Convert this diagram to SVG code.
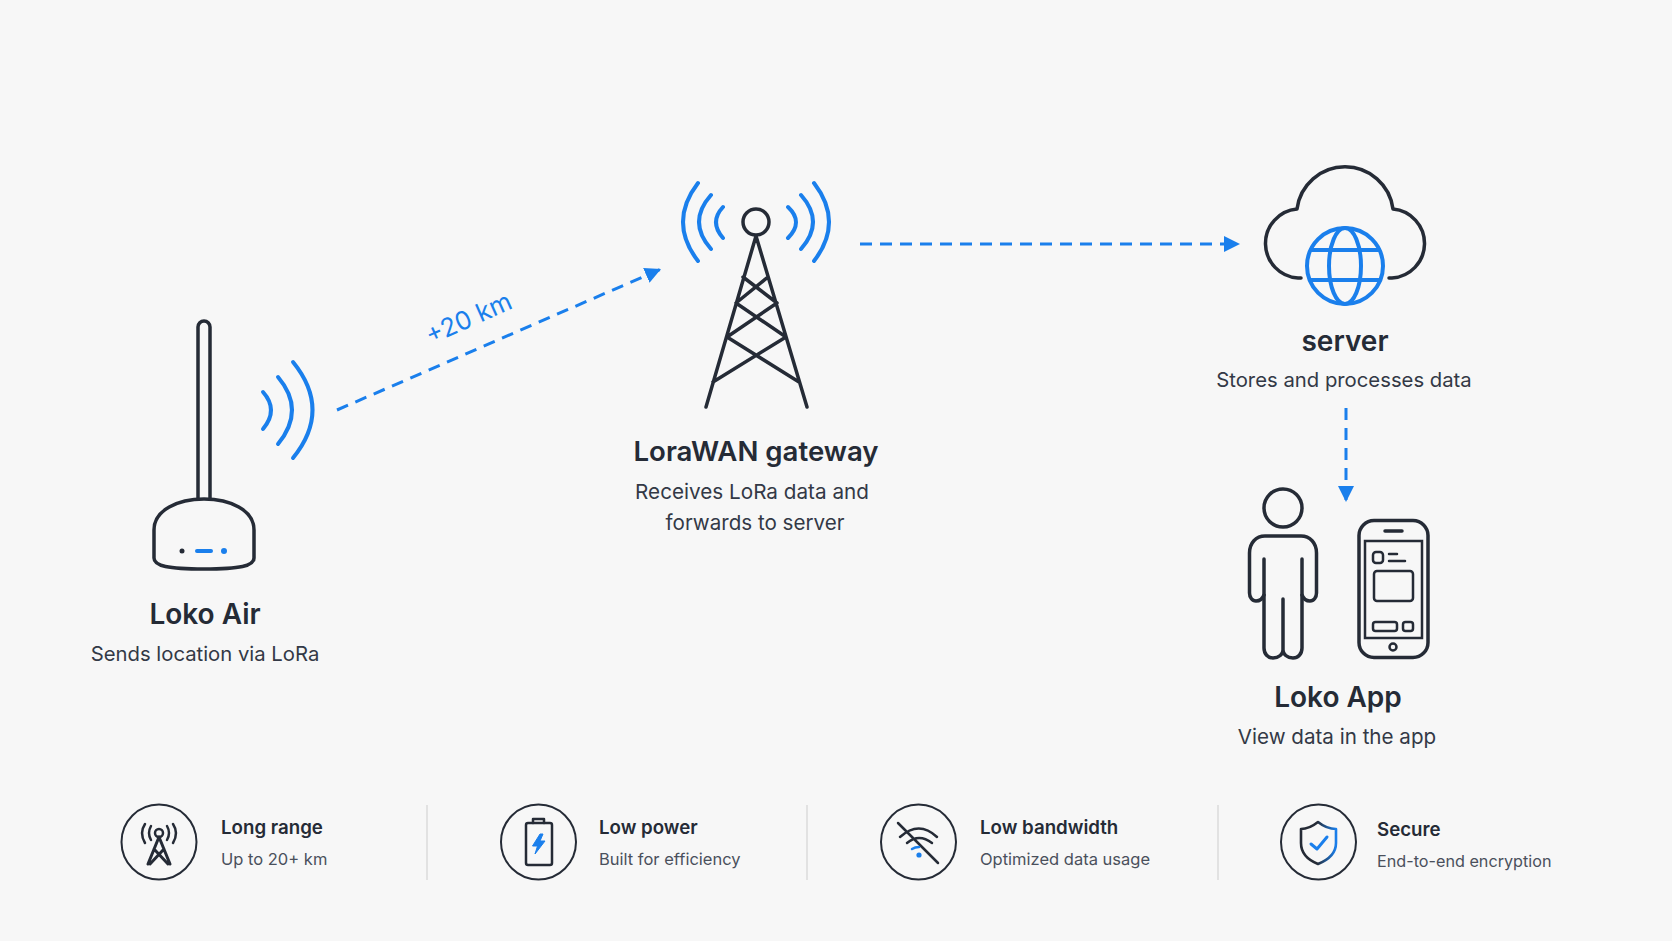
<svg xmlns="http://www.w3.org/2000/svg" width="1672" height="941" viewBox="0 0 1672 941">
<style>
text{font-family:Inter,"Liberation Sans",sans-serif}
.ln{fill:none;stroke:#252b36;stroke-width:3.5;stroke-linecap:round;stroke-linejoin:round}
.thin{fill:none;stroke:#252b36;stroke-width:2.5;stroke-linecap:round;stroke-linejoin:round}
.bl{fill:none;stroke:#1a7fec;stroke-width:4;stroke-linecap:round;stroke-linejoin:round}
.dash{fill:none;stroke:#1a7fec;stroke-width:3;stroke-dasharray:12 8}
.h{font-size:28px;font-weight:600;fill:#252b36;text-anchor:middle}
.s{font-size:20.3px;font-weight:400;fill:#333946;text-anchor:middle}
.fh{font-size:18.7px;font-weight:600;fill:#252b36}
.fs{font-size:16.5px;font-weight:400;fill:#4a505c}
.ring{fill:none;stroke:#252b36;stroke-width:2}
.sep{stroke:#dcdcdc;stroke-width:1.6}
</style>
<defs>
<marker id="ah" markerUnits="userSpaceOnUse" markerWidth="18" markerHeight="16" refX="16" refY="8" orient="auto"><path d="M0 0L16 8L0 16Z" fill="#1a7fec"/></marker>
<linearGradient id="sg" x1="0" x2="1" y1="0" y2="0"><stop offset="0.45" stop-color="#252b36"/><stop offset="1" stop-color="#1a7fec"/></linearGradient>
</defs>
<rect width="1672" height="941" fill="#f7f7f7"/>
<g id="connectors">
<path class="dash" d="M337 410L661 269" marker-end="url(#ah)"/>
<path class="dash" d="M860 244H1240" marker-end="url(#ah)"/>
<path class="dash" d="M1346 408V502" marker-end="url(#ah)"/>
<text x="469" y="327" transform="rotate(-24 469 319)" font-size="25.5" fill="#1a7fec" text-anchor="middle">+20 km</text>
</g>
<g id="loko-air">
<path class="ln" d="M198 498V327A6 6 0 0 1 210 327V498"/>
<path class="ln" d="M154 558V530C154 510 178 499 204 499C230 499 254 510 254 530V558C254 566 240 569 204 569C168 569 154 566 154 558Z"/>
<circle cx="182" cy="551" r="2.5" fill="#252b36"/>
<path class="bl" d="M197 551H211" stroke-width="3.5"/>
<circle cx="224" cy="551" r="3" fill="#1a7fec"/>
<path class="bl" d="M263 392Q279 410 263 429M278 377Q306 410 278 444M293 362Q332 410 293 458"/>
<text class="h" x="205" y="624">Loko Air</text>
<text class="s" x="205" y="661">Sends location via LoRa</text>
</g>
<g id="gateway">
<circle class="ln" cx="756" cy="222" r="13"/>
<path class="ln" d="M756 236L706 407M756 236L807 407M743 277L777 303M768 277L736 303M736 303L786 337M777 303L727 337M727 337L799 382M786 337L713 382"/>
<path class="bl" d="M698 183Q668 222 698 261M711 195Q687 222 711 249M723 207Q709 222 723 238M788 207Q804 222 788 238M801 195Q825 222 801 249M814 183Q844 222 814 261"/>
<text class="h" x="756" y="460.500" style="font-size:27.6px">LoraWAN gateway</text>
<text class="s" x="752" y="499" style="font-size:20.7px">Receives LoRa data and</text>
<text class="s" x="755" y="530" style="font-size:20.6px">forwards to server</text>
</g>
<g id="server">
<path class="ln" d="M1301 278H1298A34.6 34.6 0 0 1 1297 209A48.4 48.4 0 0 1 1393 209A34.6 34.6 0 0 1 1392 278H1389"/>
<circle class="bl" cx="1345" cy="266" r="38"/>
<ellipse class="bl" cx="1345" cy="266" rx="16" ry="38"/>
<path class="bl" d="M1311 250H1379M1311 280H1379"/>
<text class="h" x="1345" y="351">server</text>
<text class="s" x="1344" y="387">Stores and processes data</text>
</g>
<g id="loko-app">
<circle class="ln" cx="1283" cy="508" r="19"/>
<path class="ln" d="M1264 595C1262 600 1259 601 1256 601C1252 601 1249.500 597 1249.500 593V553C1249.500 543 1256 536 1265 536H1301C1310 536 1316.500 543 1316.500 553V593C1316.500 597 1314 601 1310 601C1307 601 1304 600 1302 595"/>
<path class="ln" d="M1264 559V648C1264 654 1268 658 1273 658C1279 658 1283 654 1283 650C1283 654 1287 658 1293 658C1298 658 1302 654 1302 648V559M1283 599V650"/>
<rect class="ln" x="1359" y="520.500" width="69" height="137" rx="15"/>
<path class="ln" d="M1385 531H1402"/>
<rect x="1365" y="541" width="57" height="97" fill="none" stroke="#252b36" stroke-width="2.5"/>
<rect class="thin" x="1373" y="552" width="10" height="11" rx="3"/>
<path class="thin" d="M1389 554H1397M1389 561H1405"/>
<rect class="thin" x="1374" y="571" width="39" height="30" rx="3"/>
<rect class="thin" x="1373" y="622" width="24" height="9" rx="2.5"/>
<rect class="thin" x="1403" y="622" width="10" height="9" rx="2.5"/>
<circle class="thin" cx="1393" cy="647" r="3.5"/>
<text class="h" x="1338" y="707">Loko App</text>
<text class="s" x="1337" y="744" style="font-size:20.6px">View data in the app</text>
</g>
<g id="feature-range">
<circle class="ring" cx="159" cy="842" r="37.500"/>
<circle class="thin" cx="159" cy="833" r="4"/>
<path class="thin" style="stroke-width:3" d="M159 837L148 864M159 837L170 864M154 849L168 864M164 849L150 864"/>
<path class="thin" d="M151 826Q147 833 151 840M167 826Q171 833 167 840M145 824Q139 833 145 843M173 824Q179 833 173 843"/>
<text class="fh" x="221" y="834">Long range</text>
<text class="fs" x="221" y="865">Up to 20+ km</text>
</g>
<path class="sep" d="M427 805V880"/>
<g id="feature-power">
<circle class="ring" cx="538.500" cy="842" r="37.500"/>
<rect class="thin" x="526" y="823" width="26" height="42" rx="2"/>
<path class="thin" d="M533 823V819H544V823"/>
<path d="M540 834L532.500 846H537.500L535 854L545 841H540L543 834Z" fill="#1a7fec" stroke="#1a7fec" stroke-linejoin="round"/>
<text class="fh" x="599" y="834">Low power</text>
<text class="fs" x="599" y="865">Built for efficiency</text>
</g>
<path class="sep" d="M807 805V880"/>
<g id="feature-bandwidth">
<circle class="ring" cx="918.500" cy="842" r="37.500"/>
<path class="thin" d="M900 837Q919 820 937 837M907 843Q919 833 932 843M898 823L938 863"/>
<path class="thin" d="M912 849Q915 847 919 847" style="stroke:#1a7fec"/>
<circle cx="919" cy="855" r="2.6" fill="#1a7fec"/>
<text class="fh" x="980" y="834">Low bandwidth</text>
<text class="fs" x="980" y="865">Optimized data usage</text>
</g>
<path class="sep" d="M1218 805V880"/>
<g id="feature-secure">
<circle class="ring" cx="1318.500" cy="842" r="37.500"/>
<path d="M1318 822C1313 826 1307 829 1301 829V843C1301 853 1308 860 1318 864C1328 860 1336 853 1336 843V829C1329 829 1323 826 1318 822Z" fill="none" stroke="url(#sg)" stroke-width="2.6" stroke-linejoin="round"/>
<path class="bl" d="M1311 844L1317 849L1327 837" style="stroke-width:3"/>
<text class="fh" x="1377" y="836">Secure</text>
<text class="fs" x="1377" y="867" style="font-size:16.2px">End-to-end encryption</text>
</g>
</svg>
